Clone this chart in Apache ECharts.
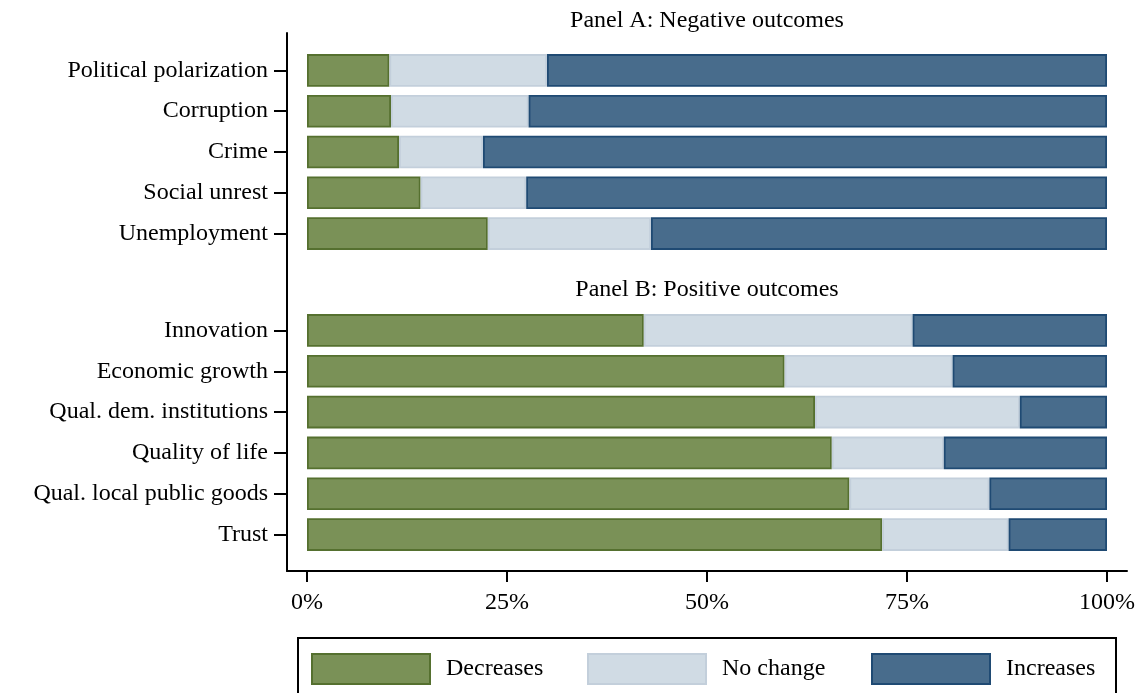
<!DOCTYPE html>
<html>
<head>
<meta charset="utf-8">
<script src="https://cdn.jsdelivr.net/npm/echarts@6/dist/echarts.min.js"></script>
<style>html,body{margin:0;padding:0;background:#fff}#c{width:1147px;height:693px}</style>
</head>
<body>
<div id="c"></div>
<script>
const categoriesA = ['Political polarization', 'Corruption', 'Crime', 'Social unrest', 'Unemployment'];
const decreasesA = [10.3, 10.5, 11.5, 14.2, 22.6];
const noChangeA  = [19.7, 17.2, 10.5, 13.2, 20.4];
const increasesA = [70.0, 72.3, 78.0, 72.6, 57.0];

const categoriesB = ['Innovation', 'Economic growth', 'Qual. dem. institutions', 'Quality of life', 'Qual. local public goods', 'Trust'];
const decreasesB = [42.1, 59.7, 63.5, 65.6, 67.8, 71.9];
const noChangeB  = [33.6, 21.0, 25.6, 14.0, 17.5, 15.8];
const increasesB = [24.3, 19.3, 10.9, 20.4, 14.7, 12.3];

const xTicks = [0, 25, 50, 75, 100];
const seriesNames = ['Decreases', 'No change', 'Increases'];
const panelTitles = ['Panel A: Negative outcomes', 'Panel B: Positive outcomes'];

const FONT = '"Liberation Serif", "Times New Roman", serif';
const FS = 24;
const styles = {
  'Decreases': {color: '#7a9157', borderColor: '#55702f', borderWidth: 1.8},
  'No change': {color: '#d0dbe4', borderColor: '#c3cfdb', borderWidth: 1.8},
  'Increases': {color: '#486c8c', borderColor: '#1f4a73', borderWidth: 1.8}
};

const chart = echarts.init(document.getElementById('c'), null, {renderer: 'canvas'});

function bar(name, data, axisIdx, stack) {
  return {
    type: 'bar', name: name, data: data, stack: stack,
    xAxisIndex: axisIdx, yAxisIndex: axisIdx,
    barCategoryGap: '20%', itemStyle: styles[name],
    emphasis: {disabled: true}, animation: false
  };
}

const lineStyle = {color: '#000', width: 2};

function legendAt(i, left) {
  return {data: [seriesNames[i]], left: left, top: 653, padding: 0, itemWidth: 118, itemHeight: 30, icon: 'rect',
    selectedMode: false, textStyle: {fontFamily: FONT, fontSize: FS, color: '#000', padding: [0, 0, 0, 11]}};
}

const option = {
  backgroundColor: '#fff',
  animation: false,
  grid: [
    {left: 287, top: 33, width: 840, height: 538},
    {left: 307, top: 50, width: 800, height: 204},
    {left: 307, top: 310, width: 800, height: 245}
  ],
  xAxis: [
    {gridIndex: 0, type: 'value', min: -2.5, max: 102.5, axisLine: {show: true, onZero: false, lineStyle: lineStyle},
     axisTick: {show: false}, axisLabel: {show: false}, splitLine: {show: false}},
    {gridIndex: 1, type: 'value', min: 0, max: 100, show: false},
    {gridIndex: 2, type: 'value', min: 0, max: 100, interval: 25, position: 'bottom', offset: 16,
     axisLine: {show: false, onZero: false}, axisTick: {show: true, length: 11, lineStyle: lineStyle},
     axisLabel: {formatter: v => xTicks.includes(v) ? v + '%' : '', fontFamily: FONT, fontSize: FS, color: '#000', margin: 20},
     splitLine: {show: false}}
  ],
  yAxis: [
    {gridIndex: 0, type: 'value', min: 0, max: 1, position: 'left', axisLine: {show: true, onZero: false, lineStyle: lineStyle},
     axisTick: {show: false}, axisLabel: {show: false}, splitLine: {show: false}},
    {gridIndex: 1, type: 'category', data: categoriesA, inverse: true, offset: 20, position: 'left',
     axisLine: {show: false, onZero: false}, axisTick: {show: true, length: 13, alignWithLabel: true, lineStyle: lineStyle},
     axisLabel: {fontFamily: FONT, fontSize: FS, color: '#000', margin: 19, padding: [4, 0, 0, 0]}},
    {gridIndex: 2, type: 'category', data: categoriesB, inverse: true, offset: 20, position: 'left',
     axisLine: {show: false, onZero: false}, axisTick: {show: true, length: 13, alignWithLabel: true, lineStyle: lineStyle},
     axisLabel: {fontFamily: FONT, fontSize: FS, color: '#000', margin: 19, padding: [4, 0, 0, 0]}}
  ],
  legend: [legendAt(0, 311), legendAt(1, 587), legendAt(2, 871)],
  graphic: [
    {type: 'text', x: 707, y: 21, style: {text: panelTitles[0], font: FS + 'px ' + FONT, fill: '#000', textAlign: 'center', textVerticalAlign: 'middle'}},
    {type: 'text', x: 707, y: 290, style: {text: panelTitles[1], font: FS + 'px ' + FONT, fill: '#000', textAlign: 'center', textVerticalAlign: 'middle'}},
    {type: 'rect', shape: {x: 298, y: 638, width: 818, height: 80}, style: {fill: 'none', stroke: '#000', lineWidth: 2}}
  ],
  series: [
    bar('Decreases', decreasesA, 1, 'A'),
    bar('No change', noChangeA, 1, 'A'),
    bar('Increases', increasesA, 1, 'A'),
    bar('Decreases', decreasesB, 2, 'B'),
    bar('No change', noChangeB, 2, 'B'),
    bar('Increases', increasesB, 2, 'B')
  ]
};
chart.setOption(option);
</script>
</body>
</html>
